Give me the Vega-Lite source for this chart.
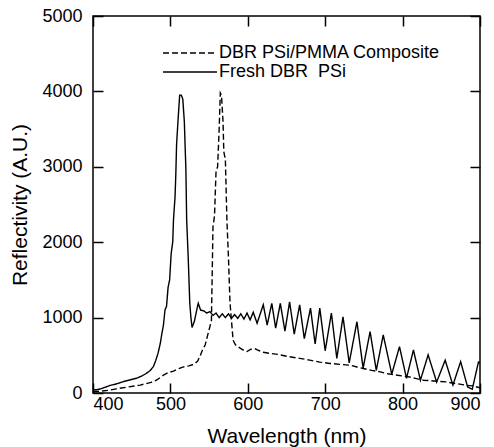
{
  "$schema": "https://vega.github.io/schema/vega-lite/v6.json",
  "width": 387,
  "height": 377,
  "autosize": {"type": "none"},
  "padding": {"left": 93, "top": 16, "right": 14, "bottom": 54},
  "background": "white",
  "config": {
    "view": {"stroke": "black", "strokeWidth": 1.5},
    "font": "Liberation Sans",
    "axis": {
      "grid": false,
      "domain": false,
      "tickColor": "black",
      "tickWidth": 1.5,
      "tickSize": -10,
      "labelColor": "black",
      "titleColor": "black",
      "labelFont": "Liberation Sans",
      "titleFont": "Liberation Sans",
      "labelFontSize": 18,
      "titleFontSize": 21,
      "titleFontWeight": "normal",
      "format": "d"
    }
  },
  "data": {
    "values": [
      {"s": "Fresh DBR\u00a0 PSi", "x": 400, "y": 40},
      {"s": "Fresh DBR\u00a0 PSi", "x": 405, "y": 45},
      {"s": "Fresh DBR\u00a0 PSi", "x": 410, "y": 55},
      {"s": "Fresh DBR\u00a0 PSi", "x": 422, "y": 100},
      {"s": "Fresh DBR\u00a0 PSi", "x": 430, "y": 120},
      {"s": "Fresh DBR\u00a0 PSi", "x": 439, "y": 150},
      {"s": "Fresh DBR\u00a0 PSi", "x": 448, "y": 175},
      {"s": "Fresh DBR\u00a0 PSi", "x": 456, "y": 195},
      {"s": "Fresh DBR\u00a0 PSi", "x": 463, "y": 225},
      {"s": "Fresh DBR\u00a0 PSi", "x": 469, "y": 260},
      {"s": "Fresh DBR\u00a0 PSi", "x": 474, "y": 300},
      {"s": "Fresh DBR\u00a0 PSi", "x": 478, "y": 350},
      {"s": "Fresh DBR\u00a0 PSi", "x": 481, "y": 430},
      {"s": "Fresh DBR\u00a0 PSi", "x": 484, "y": 525},
      {"s": "Fresh DBR\u00a0 PSi", "x": 487, "y": 660},
      {"s": "Fresh DBR\u00a0 PSi", "x": 489, "y": 790},
      {"s": "Fresh DBR\u00a0 PSi", "x": 491, "y": 900},
      {"s": "Fresh DBR\u00a0 PSi", "x": 493, "y": 1100},
      {"s": "Fresh DBR\u00a0 PSi", "x": 495, "y": 1150},
      {"s": "Fresh DBR\u00a0 PSi", "x": 497, "y": 1400},
      {"s": "Fresh DBR\u00a0 PSi", "x": 499, "y": 1500},
      {"s": "Fresh DBR\u00a0 PSi", "x": 501, "y": 1850},
      {"s": "Fresh DBR\u00a0 PSi", "x": 503, "y": 2000},
      {"s": "Fresh DBR\u00a0 PSi", "x": 504, "y": 2300},
      {"s": "Fresh DBR\u00a0 PSi", "x": 506, "y": 2600},
      {"s": "Fresh DBR\u00a0 PSi", "x": 507, "y": 2900},
      {"s": "Fresh DBR\u00a0 PSi", "x": 508, "y": 3300},
      {"s": "Fresh DBR\u00a0 PSi", "x": 510, "y": 3640},
      {"s": "Fresh DBR\u00a0 PSi", "x": 512, "y": 3950},
      {"s": "Fresh DBR\u00a0 PSi", "x": 514, "y": 3950},
      {"s": "Fresh DBR\u00a0 PSi", "x": 516, "y": 3900},
      {"s": "Fresh DBR\u00a0 PSi", "x": 518, "y": 3600},
      {"s": "Fresh DBR\u00a0 PSi", "x": 519, "y": 3280},
      {"s": "Fresh DBR\u00a0 PSi", "x": 520, "y": 2970},
      {"s": "Fresh DBR\u00a0 PSi", "x": 521, "y": 2300},
      {"s": "Fresh DBR\u00a0 PSi", "x": 523, "y": 1800},
      {"s": "Fresh DBR\u00a0 PSi", "x": 525, "y": 1200},
      {"s": "Fresh DBR\u00a0 PSi", "x": 526.5, "y": 1000},
      {"s": "Fresh DBR\u00a0 PSi", "x": 528, "y": 870},
      {"s": "Fresh DBR\u00a0 PSi", "x": 531, "y": 950},
      {"s": "Fresh DBR\u00a0 PSi", "x": 534, "y": 1100},
      {"s": "Fresh DBR\u00a0 PSi", "x": 536, "y": 1190},
      {"s": "Fresh DBR\u00a0 PSi", "x": 539, "y": 1100},
      {"s": "Fresh DBR\u00a0 PSi", "x": 543, "y": 1090},
      {"s": "Fresh DBR\u00a0 PSi", "x": 547, "y": 1060},
      {"s": "Fresh DBR\u00a0 PSi", "x": 551, "y": 1080},
      {"s": "Fresh DBR\u00a0 PSi", "x": 555, "y": 1030},
      {"s": "Fresh DBR\u00a0 PSi", "x": 559, "y": 1060},
      {"s": "Fresh DBR\u00a0 PSi", "x": 563, "y": 1000},
      {"s": "Fresh DBR\u00a0 PSi", "x": 567, "y": 1050},
      {"s": "Fresh DBR\u00a0 PSi", "x": 571, "y": 1000},
      {"s": "Fresh DBR\u00a0 PSi", "x": 575, "y": 1050},
      {"s": "Fresh DBR\u00a0 PSi", "x": 579, "y": 990},
      {"s": "Fresh DBR\u00a0 PSi", "x": 583, "y": 1040},
      {"s": "Fresh DBR\u00a0 PSi", "x": 587, "y": 990},
      {"s": "Fresh DBR\u00a0 PSi", "x": 591, "y": 1050},
      {"s": "Fresh DBR\u00a0 PSi", "x": 595, "y": 980},
      {"s": "Fresh DBR\u00a0 PSi", "x": 599, "y": 1060},
      {"s": "Fresh DBR\u00a0 PSi", "x": 603, "y": 970},
      {"s": "Fresh DBR\u00a0 PSi", "x": 607, "y": 1070},
      {"s": "Fresh DBR\u00a0 PSi", "x": 612, "y": 925},
      {"s": "Fresh DBR\u00a0 PSi", "x": 620, "y": 1170},
      {"s": "Fresh DBR\u00a0 PSi", "x": 625, "y": 900},
      {"s": "Fresh DBR\u00a0 PSi", "x": 631, "y": 1190},
      {"s": "Fresh DBR\u00a0 PSi", "x": 636, "y": 860},
      {"s": "Fresh DBR\u00a0 PSi", "x": 642, "y": 1190},
      {"s": "Fresh DBR\u00a0 PSi", "x": 648, "y": 820},
      {"s": "Fresh DBR\u00a0 PSi", "x": 654, "y": 1210},
      {"s": "Fresh DBR\u00a0 PSi", "x": 660, "y": 780},
      {"s": "Fresh DBR\u00a0 PSi", "x": 667, "y": 1170},
      {"s": "Fresh DBR\u00a0 PSi", "x": 673, "y": 720},
      {"s": "Fresh DBR\u00a0 PSi", "x": 681, "y": 1125},
      {"s": "Fresh DBR\u00a0 PSi", "x": 687, "y": 650},
      {"s": "Fresh DBR\u00a0 PSi", "x": 693, "y": 1125},
      {"s": "Fresh DBR\u00a0 PSi", "x": 700, "y": 560},
      {"s": "Fresh DBR\u00a0 PSi", "x": 708, "y": 1060},
      {"s": "Fresh DBR\u00a0 PSi", "x": 715, "y": 460},
      {"s": "Fresh DBR\u00a0 PSi", "x": 723, "y": 1010},
      {"s": "Fresh DBR\u00a0 PSi", "x": 731, "y": 400},
      {"s": "Fresh DBR\u00a0 PSi", "x": 741, "y": 945},
      {"s": "Fresh DBR\u00a0 PSi", "x": 749, "y": 330},
      {"s": "Fresh DBR\u00a0 PSi", "x": 758, "y": 815},
      {"s": "Fresh DBR\u00a0 PSi", "x": 766, "y": 300},
      {"s": "Fresh DBR\u00a0 PSi", "x": 775, "y": 770},
      {"s": "Fresh DBR\u00a0 PSi", "x": 786, "y": 250},
      {"s": "Fresh DBR\u00a0 PSi", "x": 796, "y": 615},
      {"s": "Fresh DBR\u00a0 PSi", "x": 805, "y": 195},
      {"s": "Fresh DBR\u00a0 PSi", "x": 814, "y": 570},
      {"s": "Fresh DBR\u00a0 PSi", "x": 823, "y": 170},
      {"s": "Fresh DBR\u00a0 PSi", "x": 833, "y": 505},
      {"s": "Fresh DBR\u00a0 PSi", "x": 844, "y": 145},
      {"s": "Fresh DBR\u00a0 PSi", "x": 855, "y": 435},
      {"s": "Fresh DBR\u00a0 PSi", "x": 865, "y": 105},
      {"s": "Fresh DBR\u00a0 PSi", "x": 875, "y": 415},
      {"s": "Fresh DBR\u00a0 PSi", "x": 884, "y": 80},
      {"s": "Fresh DBR\u00a0 PSi", "x": 890, "y": 50},
      {"s": "Fresh DBR\u00a0 PSi", "x": 898, "y": 410},
      {"s": "Fresh DBR\u00a0 PSi", "x": 900, "y": 400},
      {"s": "DBR PSi/PMMA Composite", "x": 400, "y": 20},
      {"s": "DBR PSi/PMMA Composite", "x": 410, "y": 25},
      {"s": "DBR PSi/PMMA Composite", "x": 420, "y": 35},
      {"s": "DBR PSi/PMMA Composite", "x": 430, "y": 55},
      {"s": "DBR PSi/PMMA Composite", "x": 445, "y": 80},
      {"s": "DBR PSi/PMMA Composite", "x": 461, "y": 105},
      {"s": "DBR PSi/PMMA Composite", "x": 475, "y": 140},
      {"s": "DBR PSi/PMMA Composite", "x": 482, "y": 170},
      {"s": "DBR PSi/PMMA Composite", "x": 491, "y": 236},
      {"s": "DBR PSi/PMMA Composite", "x": 497, "y": 270},
      {"s": "DBR PSi/PMMA Composite", "x": 504, "y": 290},
      {"s": "DBR PSi/PMMA Composite", "x": 510, "y": 320},
      {"s": "DBR PSi/PMMA Composite", "x": 517, "y": 347},
      {"s": "DBR PSi/PMMA Composite", "x": 524, "y": 360},
      {"s": "DBR PSi/PMMA Composite", "x": 530, "y": 380},
      {"s": "DBR PSi/PMMA Composite", "x": 535, "y": 420},
      {"s": "DBR PSi/PMMA Composite", "x": 538, "y": 480},
      {"s": "DBR PSi/PMMA Composite", "x": 541, "y": 560},
      {"s": "DBR PSi/PMMA Composite", "x": 545, "y": 640},
      {"s": "DBR PSi/PMMA Composite", "x": 548, "y": 760},
      {"s": "DBR PSi/PMMA Composite", "x": 551, "y": 880},
      {"s": "DBR PSi/PMMA Composite", "x": 553, "y": 960},
      {"s": "DBR PSi/PMMA Composite", "x": 555, "y": 2200},
      {"s": "DBR PSi/PMMA Composite", "x": 557, "y": 2350},
      {"s": "DBR PSi/PMMA Composite", "x": 559, "y": 2950},
      {"s": "DBR PSi/PMMA Composite", "x": 561, "y": 3000},
      {"s": "DBR PSi/PMMA Composite", "x": 563, "y": 3500},
      {"s": "DBR PSi/PMMA Composite", "x": 564.5, "y": 3980},
      {"s": "DBR PSi/PMMA Composite", "x": 566, "y": 3950},
      {"s": "DBR PSi/PMMA Composite", "x": 568, "y": 3600},
      {"s": "DBR PSi/PMMA Composite", "x": 569, "y": 3200},
      {"s": "DBR PSi/PMMA Composite", "x": 571, "y": 3100},
      {"s": "DBR PSi/PMMA Composite", "x": 573, "y": 2300},
      {"s": "DBR PSi/PMMA Composite", "x": 575, "y": 1800},
      {"s": "DBR PSi/PMMA Composite", "x": 577, "y": 1200},
      {"s": "DBR PSi/PMMA Composite", "x": 579, "y": 950},
      {"s": "DBR PSi/PMMA Composite", "x": 581, "y": 700},
      {"s": "DBR PSi/PMMA Composite", "x": 584, "y": 640},
      {"s": "DBR PSi/PMMA Composite", "x": 588, "y": 610},
      {"s": "DBR PSi/PMMA Composite", "x": 594, "y": 570},
      {"s": "DBR PSi/PMMA Composite", "x": 599, "y": 550},
      {"s": "DBR PSi/PMMA Composite", "x": 604, "y": 580},
      {"s": "DBR PSi/PMMA Composite", "x": 609, "y": 590},
      {"s": "DBR PSi/PMMA Composite", "x": 615, "y": 560},
      {"s": "DBR PSi/PMMA Composite", "x": 620, "y": 540},
      {"s": "DBR PSi/PMMA Composite", "x": 629, "y": 525},
      {"s": "DBR PSi/PMMA Composite", "x": 640, "y": 510},
      {"s": "DBR PSi/PMMA Composite", "x": 654, "y": 480},
      {"s": "DBR PSi/PMMA Composite", "x": 667, "y": 460},
      {"s": "DBR PSi/PMMA Composite", "x": 680, "y": 436},
      {"s": "DBR PSi/PMMA Composite", "x": 693, "y": 410},
      {"s": "DBR PSi/PMMA Composite", "x": 706, "y": 392},
      {"s": "DBR PSi/PMMA Composite", "x": 719, "y": 380},
      {"s": "DBR PSi/PMMA Composite", "x": 732, "y": 369},
      {"s": "DBR PSi/PMMA Composite", "x": 741, "y": 345},
      {"s": "DBR PSi/PMMA Composite", "x": 749, "y": 325},
      {"s": "DBR PSi/PMMA Composite", "x": 760, "y": 300},
      {"s": "DBR PSi/PMMA Composite", "x": 771, "y": 280},
      {"s": "DBR PSi/PMMA Composite", "x": 781, "y": 255},
      {"s": "DBR PSi/PMMA Composite", "x": 790, "y": 240},
      {"s": "DBR PSi/PMMA Composite", "x": 800, "y": 225},
      {"s": "DBR PSi/PMMA Composite", "x": 809, "y": 213},
      {"s": "DBR PSi/PMMA Composite", "x": 818, "y": 190},
      {"s": "DBR PSi/PMMA Composite", "x": 827, "y": 170},
      {"s": "DBR PSi/PMMA Composite", "x": 840, "y": 160},
      {"s": "DBR PSi/PMMA Composite", "x": 856, "y": 147},
      {"s": "DBR PSi/PMMA Composite", "x": 869, "y": 125},
      {"s": "DBR PSi/PMMA Composite", "x": 882, "y": 103},
      {"s": "DBR PSi/PMMA Composite", "x": 890, "y": 95},
      {"s": "DBR PSi/PMMA Composite", "x": 900, "y": 70}
    ]
  },
  "layer": [
    {
      "mark": {"type": "line", "color": "black", "strokeWidth": 1.4, "clip": true},
      "encoding": {
        "x": {
          "field": "x", "type": "quantitative",
          "scale": {"domain": [400, 900], "nice": false, "zero": false},
          "axis": {"title": "Wavelength (nm)", "values": [400, 500, 600, 700, 800, 900], "labelPadding": 12, "titlePadding": 12}
        },
        "y": {
          "field": "y", "type": "quantitative",
          "scale": {"domain": [0, 5000], "nice": false},
          "axis": {"title": "Reflectivity (A.U.)", "values": [0, 1000, 2000, 3000, 4000, 5000], "labelPadding": 21, "titlePadding": 11}
        },
        "strokeDash": {
          "field": "s", "type": "nominal",
          "scale": {"domain": ["DBR PSi/PMMA Composite", "Fresh DBR\u00a0 PSi"], "range": [[6, 3], [1, 0]]},
          "legend": {
            "title": null,
            "orient": "none",
            "legendX": 88,
            "legendY": 28,
            "padding": 0,
            "symbolType": "M-4,0H4",
            "symbolSize": 182,
            "symbolStrokeWidth": 1.4,
            "symbolStrokeColor": "black",
            "symbolFillColor": "transparent",
            "labelFontSize": 18,
            "labelFont": "Liberation Sans",
            "labelColor": "black",
            "labelOffset": 20,
            "rowPadding": 1,
            "labelLimit": 400
          }
        },
        "detail": {"field": "s"}
      }
    },
    {
      "mark": {"type": "line", "opacity": 0},
      "encoding": {
        "x": {
          "field": "x", "type": "quantitative",
          "axis": {"orient": "top", "labels": false, "title": null, "values": [400, 500, 600, 700, 800, 900]}
        },
        "y": {
          "field": "y", "type": "quantitative",
          "axis": {"orient": "right", "labels": false, "title": null, "values": [0, 1000, 2000, 3000, 4000, 5000]}
        },
        "detail": {"field": "s"}
      }
    }
  ],
  "resolve": {"axis": {"x": "independent", "y": "independent"}}
}
